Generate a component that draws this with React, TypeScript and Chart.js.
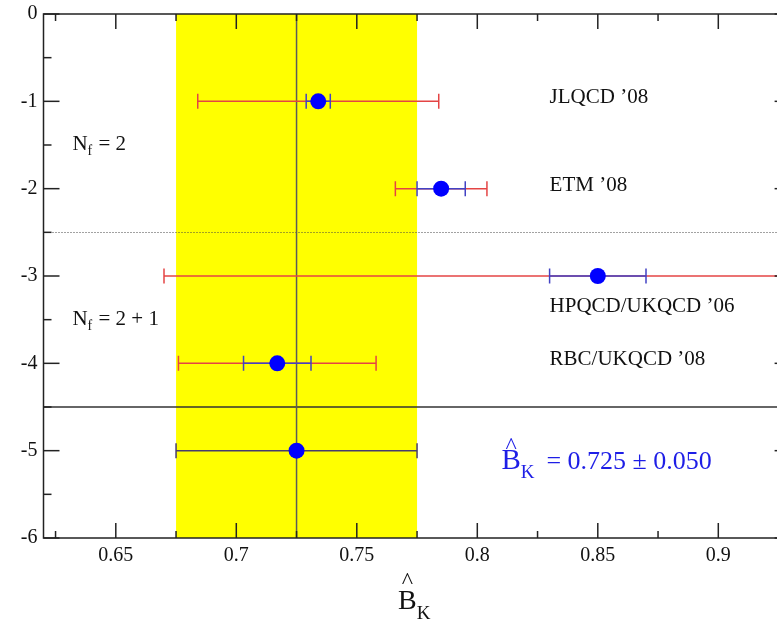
import { useEffect, useRef } from "react";
import { Chart, registerables } from "chart.js";

Chart.register(...registerables);

// ---- data ----
const experiments = ["JLQCD \u201908", "ETM \u201908", "HPQCD/UKQCD \u201906", "RBC/UKQCD \u201908"];
const rowPositions = [-1, -2, -3, -4];
const centralValues = [0.734, 0.785, 0.85, 0.717];
const statErrors = [0.005, 0.01, 0.02, 0.014];
const totalErrors = [0.05, 0.019, 0.18, 0.041];
const averageRow = -5;
const averageValue = 0.725;
const averageError = 0.05;
const groupLabels = ["2", "2 + 1"];
const groupSeparator = -2.5;
const resultSeparator = -4.5;
const xMajorTicks = [0.65, 0.7, 0.75, 0.8, 0.85, 0.9];
const xMinorTicks = [0.625, 0.675, 0.725, 0.775, 0.825, 0.875, 0.925];
const yMajorTicks = [0, -1, -2, -3, -4, -5, -6];
const yMinorTicks = [-0.5, -1.5, -2.5, -3.5, -4.5, -5.5];
const xRange = [0.62, 0.93];
const yRange = [-6, 0];

const SERIF = "'Liberation Serif', 'Times New Roman', Times, serif";
const RED = "#e44444";
const BLUE_BAR = "#4242c4";
const AVG_BAR = "#473c6e";
const AXIS = "#222";

function seg(ctx: CanvasRenderingContext2D, x1: number, y1: number, x2: number, y2: number) {
  ctx.beginPath();
  ctx.moveTo(x1, y1);
  ctx.lineTo(x2, y2);
  ctx.stroke();
}

const decorPlugin = {
  id: "decor",
  beforeDatasetsDraw(chart: any) {
    const { ctx, chartArea: a, scales } = chart;
    const x = scales.x, y = scales.y;
    ctx.save();
    ctx.beginPath();
    ctx.rect(a.left, a.top, a.right - a.left, a.bottom - a.top);
    ctx.clip();
    const bl = x.getPixelForValue(averageValue - averageError);
    const br = x.getPixelForValue(averageValue + averageError);
    ctx.fillStyle = "#ffff00";
    ctx.fillRect(bl, a.top, br - bl, a.bottom - a.top);
    // separators
    ctx.strokeStyle = "#444";
    ctx.lineWidth = 1;
    ctx.setLineDash([1, 2]);
    const gy = Math.round(y.getPixelForValue(groupSeparator)) + 0.5;
    seg(ctx, a.left, gy, a.right, gy);
    ctx.setLineDash([]);
    ctx.strokeStyle = "#333";
    ctx.lineWidth = 1.5;
    const ry = y.getPixelForValue(resultSeparator);
    seg(ctx, a.left, ry, a.right, ry);
    // central line
    ctx.strokeStyle = "#5a5a5a";
    ctx.lineWidth = 1.5;
    const vx = x.getPixelForValue(averageValue);
    seg(ctx, vx, a.top, vx, a.bottom);
    ctx.restore();
  },
  afterDraw(chart: any) {
    const { ctx, chartArea: a, scales } = chart;
    const x = scales.x, y = scales.y;
    ctx.save();
    ctx.strokeStyle = AXIS;
    ctx.lineWidth = 1.5;
    ctx.strokeRect(a.left, a.top, a.right - a.left, a.bottom - a.top);
    xMajorTicks.forEach((v) => {
      const p = x.getPixelForValue(v);
      seg(ctx, p, a.bottom, p, a.bottom - 15);
      seg(ctx, p, a.top, p, a.top + 15);
    });
    xMinorTicks.forEach((v) => {
      const p = x.getPixelForValue(v);
      seg(ctx, p, a.bottom, p, a.bottom - 7);
      seg(ctx, p, a.top, p, a.top + 7);
    });
    yMajorTicks.forEach((v) => {
      const p = y.getPixelForValue(v);
      seg(ctx, a.left, p, a.left + 16, p);
      seg(ctx, a.right, p, a.right - 16, p);
    });
    yMinorTicks.forEach((v) => {
      const p = y.getPixelForValue(v);
      seg(ctx, a.left, p, a.left + 8, p);
      seg(ctx, a.right, p, a.right - 8, p);
    });

    // experiment labels
    ctx.fillStyle = "#111";
    ctx.textBaseline = "alphabetic";
    ctx.textAlign = "left";
    ctx.font = `21px ${SERIF}`;
    const labelOffsets = [2, 2, 36, 2];
    const lx = x.getPixelForValue(0.83);
    experiments.forEach((name, i) => {
      ctx.fillText(name, lx, y.getPixelForValue(rowPositions[i]) + labelOffsets[i]);
    });

    // N_f labels
    const groupRows = [-1.5, -3.5];
    const nx = x.getPixelForValue(0.632);
    groupLabels.forEach((g, i) => {
      const by = y.getPixelForValue(groupRows[i]) + 5;
      ctx.font = `21px ${SERIF}`;
      ctx.fillText("N", nx, by);
      const nw = ctx.measureText("N").width;
      ctx.font = `14px ${SERIF}`;
      ctx.fillText("f", nx + nw, by + 5);
      const fw = ctx.measureText("f").width;
      ctx.font = `21px ${SERIF}`;
      ctx.fillText(" = " + g, nx + nw + fw + 1, by);
    });

    // average result label
    const blue = "#1e1ee6";
    ctx.fillStyle = blue;
    const rx = x.getPixelForValue(0.81);
    const rby = y.getPixelForValue(averageRow) + 18;
    ctx.font = `29px ${SERIF}`;
    ctx.fillText("B", rx, rby);
    const bw = ctx.measureText("B").width;
    ctx.font = `24px ${SERIF}`;
    ctx.textAlign = "center";
    ctx.fillText("^", rx + bw / 2, rby - 16);
    ctx.textAlign = "left";
    ctx.font = `19px ${SERIF}`;
    ctx.fillText("K", rx + bw, rby + 9);
    ctx.font = `26px ${SERIF}`;
    ctx.fillText(`= ${averageValue.toFixed(3)} \u00b1 ${averageError.toFixed(3)}`, rx + 45, rby);

    // axis title
    ctx.fillStyle = "#111";
    const tx = 398;
    const tby = 609;
    ctx.font = `28px ${SERIF}`;
    ctx.fillText("B", tx, tby);
    const tbw = ctx.measureText("B").width;
    ctx.font = `24px ${SERIF}`;
    ctx.textAlign = "center";
    ctx.fillText("^", tx + tbw / 2, tby - 21);
    ctx.textAlign = "left";
    ctx.font = `19px ${SERIF}`;
    ctx.fillText("K", tx + tbw, tby + 10);
    ctx.restore();
  },
};

export default function App() {
  const ref = useRef<HTMLCanvasElement>(null);
  useEffect(() => {
    if (!ref.current) return;
    const bar = (label: string, lo: number, hi: number, row: number, color: string, order: number) => ({
      type: "scatter" as const,
      label,
      showLine: true,
      data: [
        { x: lo, y: row },
        { x: hi, y: row },
      ],
      borderColor: color,
      borderWidth: 1.5,
      pointStyle: "line",
      rotation: 90,
      pointRadius: 7.5,
      pointBorderColor: color,
      pointBorderWidth: 1.5,
      order,
    });
    const outer = experiments.map((name, i) =>
      bar(name + " total", centralValues[i] - totalErrors[i], centralValues[i] + totalErrors[i], rowPositions[i], RED, 3)
    );
    const inner = experiments.map((name, i) =>
      bar(name + " stat", centralValues[i] - statErrors[i], centralValues[i] + statErrors[i], rowPositions[i], BLUE_BAR, 2)
    );
    const avg = bar("average", averageValue - averageError, averageValue + averageError, averageRow, AVG_BAR, 2);
    const points = {
      type: "scatter" as const,
      label: "values",
      data: [
        ...centralValues.map((v, i) => ({ x: v, y: rowPositions[i] })),
        { x: averageValue, y: averageRow },
      ],
      pointStyle: "circle",
      pointRadius: 8,
      backgroundColor: "#0000ff",
      borderColor: "#0000ff",
      pointBorderWidth: 0,
      order: 0,
    };
    const chart = new Chart(ref.current, {
      type: "scatter",
      data: { datasets: [points, avg, ...inner, ...outer] as any },
      options: {
        responsive: false,
        animation: false,
        events: [],
        layout: { padding: { top: 14, right: 9.4, left: 0, bottom: 0 } },
        plugins: { legend: { display: false }, tooltip: { enabled: false } },
        scales: {
          x: {
            type: "linear",
            min: xRange[0],
            max: xRange[1],
            grid: { display: false, drawTicks: false },
            border: { display: false },
            ticks: { font: { family: SERIF, size: 20 }, color: "#111", padding: 6, callback: (v: any) => String(v) },
            afterBuildTicks: (s: any) => {
              s.ticks = xMajorTicks.map((v) => ({ value: v }));
            },
            afterFit: (s: any) => {
              s.height = 84;
            },
          },
          y: {
            type: "linear",
            min: yRange[0],
            max: yRange[1],
            grid: { display: false, drawTicks: false },
            border: { display: false },
            ticks: {
              font: { family: SERIF, size: 20, lineHeight: 0.6 },
              color: "#111",
              padding: 6,
              callback: (v: any) => String(v),
            },
            afterBuildTicks: (s: any) => {
              s.ticks = yMajorTicks.map((v) => ({ value: v }));
            },
            afterFit: (s: any) => {
              s.width = 43.5;
            },
          },
        },
      },
      plugins: [decorPlugin],
    });
    return () => chart.destroy();
  }, []);
  return (
    <div
      style={{
        position: "fixed",
        left: 0,
        top: 0,
        width: 777,
        height: 622,
        overflow: "hidden",
        background: "#fff",
      }}
    >
      <canvas ref={ref} width={800} height={622} style={{ width: 800, height: 622, display: "block" }} />
    </div>
  );
}
